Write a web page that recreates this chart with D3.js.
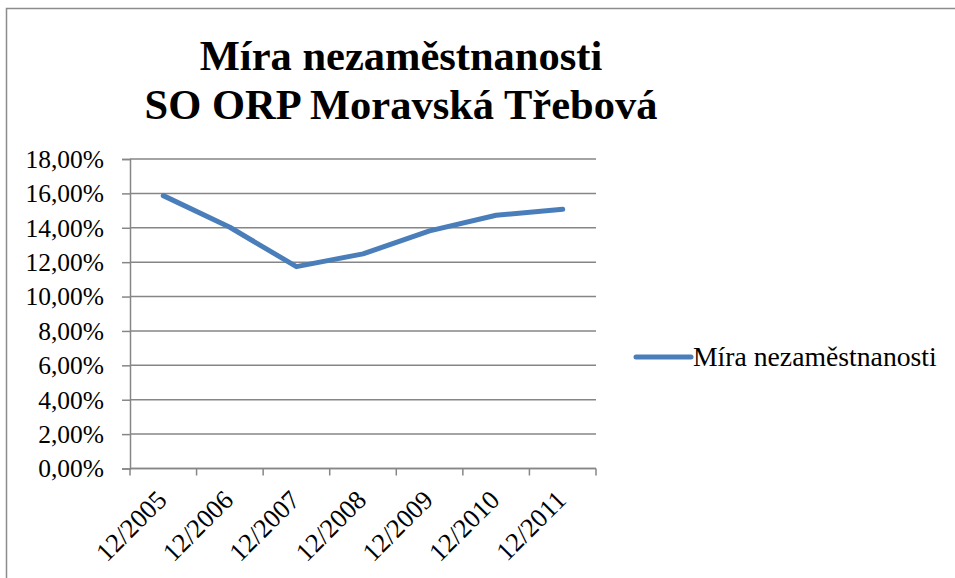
<!DOCTYPE html>
<html>
<head>
<meta charset="utf-8">
<script src="https://cdn.jsdelivr.net/npm/d3@7.9.0/dist/d3.min.js"></script>
<style>
  body { margin: 0; background: #fff; }
  svg text { font-family: "Liberation Serif", "Times New Roman", serif; fill: #000; }
</style>
</head>
<body>
<svg id="chart" width="955" height="578"></svg>
<script>
const titleLines = ['Míra nezaměstnanosti', 'SO ORP Moravská Třebová'];
const categories = ['12/2005', '12/2006', '12/2007', '12/2008', '12/2009', '12/2010', '12/2011'];
const rates = [15.87, 14.03, 11.74, 12.48, 13.82, 14.73, 15.08];
const seriesName = 'Míra nezaměstnanosti';
const yTicks = [0, 2, 4, 6, 8, 10, 12, 14, 16, 18];

const svg = d3.select('#chart');
const plot = { left: 130, right: 596, top: 159, bottom: 468.5 };
const gridColor = '#868686';
const lineColor = '#4a7ebb';

// outer chart frame (runs off the right and bottom edge)
svg.append('rect')
  .attr('x', 6.5).attr('y', 8.5)
  .attr('width', 1000).attr('height', 1000)
  .attr('fill', 'none')
  .attr('stroke', '#8c8c8c')
  .attr('stroke-width', 1.5);

// title
svg.append('text')
  .attr('x', 401).attr('y', 70)
  .attr('text-anchor', 'middle')
  .style('font-size', '42.5px')
  .style('font-weight', 'bold')
  .selectAll('tspan')
  .data(titleLines)
  .join('tspan')
  .attr('x', 401)
  .attr('dy', (d, i) => (i === 0 ? 0 : 49))
  .text((d) => d);

const x = d3.scaleBand().domain(categories).range([plot.left, plot.right]);
const y = d3.scaleLinear().domain([0, 18]).range([plot.bottom, plot.top]);

// horizontal gridlines
svg.append('g')
  .selectAll('line')
  .data(yTicks)
  .join('line')
  .attr('x1', plot.left).attr('x2', plot.right)
  .attr('y1', (d) => y(d)).attr('y2', (d) => y(d))
  .attr('stroke', gridColor)
  .attr('stroke-width', 1.5);

// y axis
const yAxis = svg.append('g')
  .attr('transform', `translate(${plot.left},0)`)
  .call(d3.axisLeft(y).tickValues(yTicks).tickSize(8).tickPadding(18)
    .tickFormat((d) => d3.format('.2f')(d).replace('.', ',') + '%'));
yAxis.select('.domain').attr('stroke', gridColor).attr('stroke-width', 1.5);
yAxis.selectAll('.tick line').attr('stroke', gridColor).attr('stroke-width', 1.5);
yAxis.selectAll('.tick text')
  .style('font-size', '25.5px')
  .attr('font-family', null)
  .attr('dy', '0.33em');

// x axis: ticks sit between categories
const xAxis = svg.append('g').attr('transform', `translate(0,${plot.bottom})`);
xAxis.append('line')
  .attr('x1', plot.left).attr('x2', plot.right)
  .attr('stroke', gridColor).attr('stroke-width', 1.5);
xAxis.selectAll('line.tick')
  .data(categories.concat(['end']))
  .join('line')
  .attr('class', 'tick')
  .attr('x1', (d, i) => plot.left + i * x.step())
  .attr('x2', (d, i) => plot.left + i * x.step())
  .attr('y1', 0).attr('y2', 7)
  .attr('stroke', gridColor).attr('stroke-width', 1.5);
xAxis.selectAll('text')
  .data(categories)
  .join('text')
  .attr('transform', (d) => `translate(${x(d) + x.bandwidth() / 2 + 5},${33}) rotate(-45)`)
  .attr('text-anchor', 'end')
  .style('font-size', '26.5px')
  .text((d) => d);

// series line
const line = d3.line()
  .x((d, i) => x(categories[i]) + x.bandwidth() / 2)
  .y((d) => y(d));

svg.append('path')
  .datum(rates)
  .attr('d', line)
  .attr('fill', 'none')
  .attr('stroke', lineColor)
  .attr('stroke-width', 5)
  .attr('stroke-linejoin', 'round')
  .attr('stroke-linecap', 'round');

// legend
const legend = svg.append('g').attr('transform', 'translate(636,357)');
legend.append('line')
  .attr('x1', 0).attr('x2', 55)
  .attr('stroke', lineColor)
  .attr('stroke-width', 5)
  .attr('stroke-linecap', 'round');
legend.append('text')
  .attr('x', 57).attr('dy', '0.33em')
  .style('font-size', '27.7px')
  .text(seriesName);
</script>
</body>
</html>
